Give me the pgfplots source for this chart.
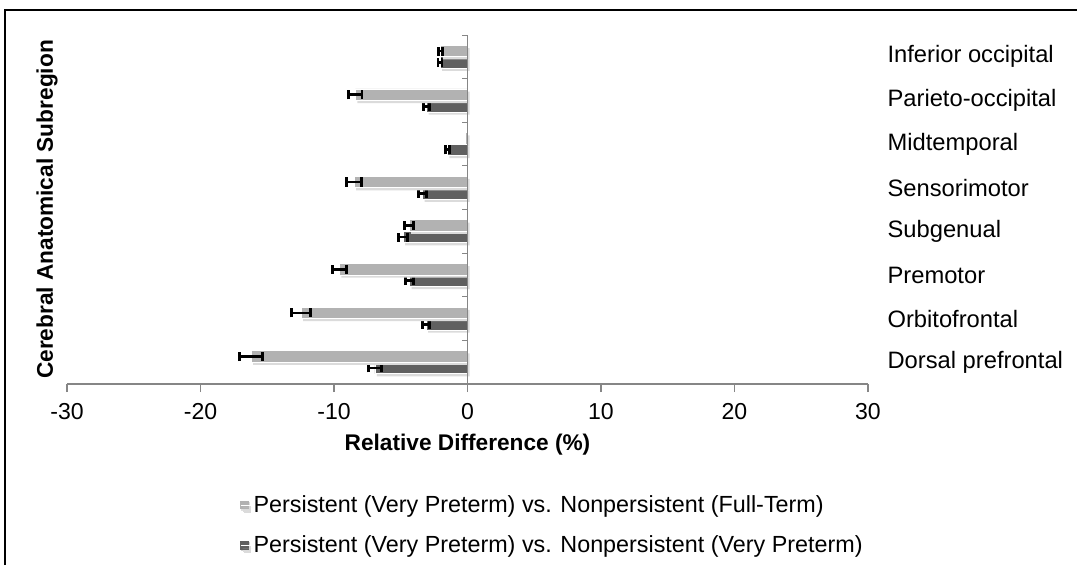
\documentclass[border=0pt]{standalone}
\usepackage{pgfplots}
\pgfplotsset{compat=1.18}
\usepackage{pgfplotstable}
\usepackage{fontspec}
\setmainfont{Liberation Sans}
\definecolor{lightbar}{RGB}{178,178,178}
\definecolor{darkbar}{RGB}{96,96,96}
\definecolor{axisgray}{RGB}{134,134,134}
\pgfplotstableread{
idx light lerr dark derr
0 -2.0 0.15 -2.05 0.15
1 -8.4 0.5 -3.07 0.22
2 -0.12 nan -1.5 0.15
3 -8.5 0.55 -3.37 0.3
4 -4.38 0.33 -4.83 0.33
5 -9.59 0.52 -4.34 0.3
6 -12.47 0.7 -3.1 0.26
7 -16.2 0.86 -6.93 0.5
}\datatable
\pgfplotsset{
  myerr/.style={error bars/.cd, x dir=both, x explicit,
    error mark=|,
    error bar style={line width=2pt, black},
    error mark options={line width=2pt, mark size=3.4pt, black}},
}
\begin{document}
\begin{tikzpicture}
\path[use as bounding box] (0pt,0pt) rectangle (807.75pt,-423.75pt);
\begin{axis}[
  at={(50.25pt,-288pt)}, anchor=south west,
  scale only axis, width=600.75pt, height=261.75pt,
  xmin=-30, xmax=30, ymin=-0.5, ymax=7.5, y dir=reverse,
  axis x line*=bottom, axis y line*=right,
  x axis line style={axisgray, line width=0.9pt},
  y axis line style={draw=none},
  xtick={-30,-20,...,30},
  xtick style={axisgray, line width=0.9pt},
  tick align=outside, major tick length=6pt,
  ytick={0,...,7},
  yticklabels={Inferior occipital,Parieto-occipital,Midtemporal,Sensorimotor,Subgenual,Premotor,Orbitofrontal,Dorsal prefrontal},
  ytick style={draw=none},
  yticklabel style={anchor=west, inner sep=0pt, xshift=8.5pt, font=\fontsize{17.8}{20}\selectfont},
  /pgf/number format/assume math mode=true,
  xticklabel style={yshift=-5pt, font=\fontsize{17.3}{20}\selectfont},
  xlabel={\textbf{Relative Difference (\%)}},
  ylabel={\textbf{Cerebral Anatomical Subregion}},
  every axis x label/.style={at={(axis description cs:0.5,-0.175)}, anchor=center, font=\fontsize{17}{20}\selectfont},
  every axis y label/.style={at={(axis description cs:-0.025,0.5)}, rotate=90, anchor=center, font=\fontsize{17}{20}\selectfont},
  xbar=0pt, bar width=8.6pt,
  reverse legend,
  legend style={at={(axis description cs:0.216,-0.3115)}, anchor=north west, draw=none, fill=none,
    font=\fontsize{17.5}{20}\selectfont, row sep=12pt, inner sep=0pt, cells={anchor=west}},
]
\addplot[fill=darkbar, draw=white, line width=0.6pt,
  preaction={fill=black!14, draw=none, transform canvas={xshift=1.5pt, yshift=-2pt}},
  legend image code/.code={%
    \fill[black!18] (0.8pt,-3.6pt) rectangle (6.4pt,2pt);
    \fill[darkbar] (0pt,-2.8pt) rectangle (5.6pt,2.8pt);
    \path (0pt,0pt) -- (7.4pt,0pt);}, myerr]
  table[x=dark, y=idx, x error=derr] {\datatable};
\addplot[fill=lightbar, draw=white, line width=0.6pt,
  preaction={fill=black!14, draw=none, transform canvas={xshift=1.5pt, yshift=-2pt}},
  legend image code/.code={%
    \fill[black!12] (0.8pt,-3.6pt) rectangle (6.4pt,2pt);
    \fill[lightbar] (0pt,-2.8pt) rectangle (5.6pt,2.8pt);
    \path (0pt,0pt) -- (7.4pt,0pt);}, myerr]
  table[x=light, y=idx, x error=lerr] {\datatable};
\legend{Persistent (Very Preterm) vs. Nonpersistent (Very Preterm),Persistent (Very Preterm) vs. Nonpersistent (Full-Term)}
\draw[axisgray, line width=0.9pt] (axis cs:0,-0.5) -- (axis cs:0,7.5);
\pgfplotsinvokeforeach{0,...,7}{\draw[axisgray, line width=0.9pt] (axis cs:0,{#1-0.5}) -- ++(-4pt,0pt);}
\end{axis}
\draw[line width=1.5pt] (3.75pt,-423.75pt) -- (3.75pt,-7.5pt) -- (807.75pt,-7.5pt);
\end{tikzpicture}
\end{document}
